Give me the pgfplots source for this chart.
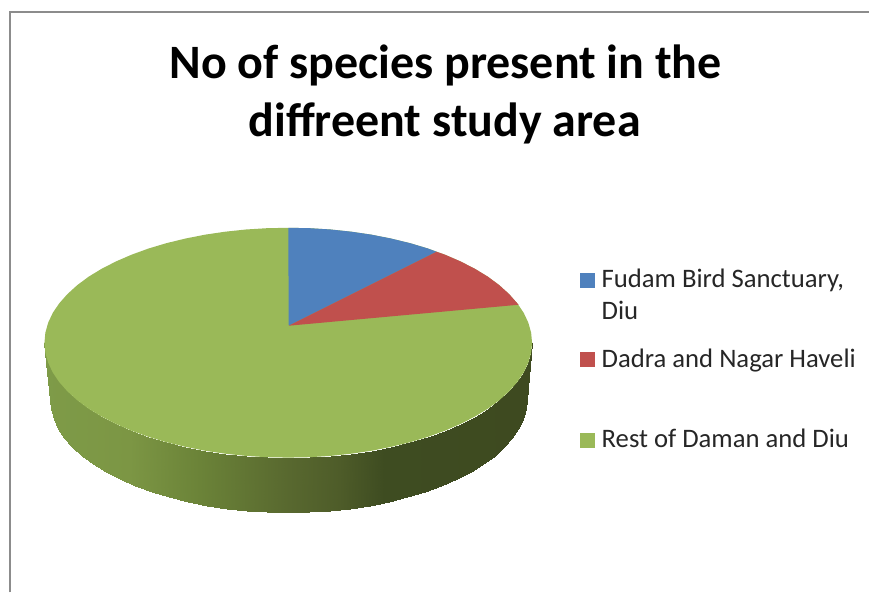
\documentclass[border=0pt]{standalone}
\usepackage{pgfplots}
\pgfplotsset{compat=1.18}
\usepackage{fontspec}
\setmainfont{Carlito}
\definecolor{sliceblue}{HTML}{4F81BD}
\definecolor{slicered}{HTML}{C0504D}
\definecolor{slicegreen}{HTML}{9AB958}
\definecolor{framegray}{HTML}{8C8C8C}
\begin{document}
\begin{tikzpicture}
  % axis in reference pixels, y downwards
  \begin{axis}[
    scale only axis,
    width=870pt,
    height=593pt,
    xmin=0, xmax=870,
    ymin=0, ymax=593,
    y dir=reverse,
    hide axis,
    clip=false,
    colormap={side}{rgb255(45)=(126,155,72) rgb255(130)=(124,150,68) rgb255(200)=(107,131,56) rgb255(290)=(88,104,47) rgb255(340)=(78,92,41) rgb255(385)=(62,76,33) rgb255(533)=(62,74,32)},
    point meta min=44.5,
    point meta max=532.5
  ]

  % chart frame
  \addplot[framegray, line width=1.5pt] coordinates {(10,593) (10,12) (870,12)};

  % rim of the pie: upper edge then lower edge
  \addplot[surf, shader=interp, mesh/rows=2, mesh/ordering=x varies, point meta=x] table {
    x y
    44.5 343
    45.4 353
    48.2 363
    52.8 372.8
    59.2 382.3
    67.4 391.6
    77.2 400.5
    88.6 409
    101.6 416.9
    116 424.3
    131.7 431.1
    148.5 437.2
    166.5 442.6
    185.4 447.2
    205 451.1
    225.4 454.1
    246.1 456.3
    267.2 457.6
    288.5 458
    309.8 457.6
    330.9 456.3
    351.6 454.1
    372 451.1
    391.6 447.2
    410.5 442.6
    428.5 437.2
    445.3 431.1
    461 424.3
    475.4 416.9
    488.4 409
    499.8 400.5
    509.6 391.6
    517.8 382.3
    524.2 372.8
    528.8 363
    531.6 353
    532.5 343
    50 400
    50.9 409.8
    53.6 419.6
    58.1 429.2
    64.4 438.6
    72.3 447.8
    82 456.5
    93.1 464.8
    105.8 472.6
    119.9 479.9
    135.2 486.6
    151.7 492.6
    169.2 497.9
    187.7 502.4
    206.9 506.2
    226.8 509.1
    247.1 511.3
    267.7 512.6
    288.5 513
    309.3 512.6
    329.9 511.3
    350.2 509.1
    370.1 506.2
    389.3 502.4
    407.8 497.9
    425.3 492.6
    441.8 486.6
    457.1 479.9
    471.2 472.6
    483.9 464.8
    495 456.5
    504.7 447.8
    512.6 438.6
    518.9 429.2
    523.4 419.6
    526.1 409.8
    527 400
  };

  % Rest of Daman and Diu (whole top, the other two lie on it)
  \addplot[fill=slicegreen, draw=none] coordinates {
    (288.5,228) (309.8,228.4) (330.9,229.7) (351.6,231.9) (372,234.9) (391.6,238.8)
    (410.5,243.4) (428.5,248.8) (445.3,254.9) (461,261.7) (475.4,269.1) (488.4,277)
    (499.8,285.5) (509.6,294.4) (517.8,303.7) (524.2,313.2) (528.8,323) (531.6,333)
    (532.5,343) (531.6,353) (528.8,363) (524.2,372.8) (517.8,382.3) (509.6,391.6)
    (499.8,400.5) (488.4,409) (475.4,416.9) (461,424.3) (445.3,431.1) (428.5,437.2)
    (410.5,442.6) (391.6,447.2) (372,451.1) (351.6,454.1) (330.9,456.3) (309.8,457.6)
    (288.5,458) (267.2,457.6) (246.1,456.3) (225.4,454.1) (205,451.1) (185.4,447.2)
    (166.5,442.6) (148.5,437.2) (131.7,431.1) (116,424.3) (101.6,416.9) (88.6,409)
    (77.2,400.5) (67.4,391.6) (59.2,382.3) (52.8,372.8) (48.2,363) (45.4,353)
    (44.5,343) (45.4,333) (48.2,323) (52.8,313.2) (59.2,303.7) (67.4,294.4)
    (77.2,285.5) (88.6,277) (101.6,269.1) (116,261.7) (131.7,254.9) (148.5,248.8)
    (166.5,243.4) (185.4,238.8) (205,234.9) (225.4,231.9) (246.1,229.7) (267.2,228.4)
  } -- cycle;

  % Fudam Bird Sanctuary, Diu
  \addplot[fill=sliceblue, draw=none] coordinates {
    (289,326) (288.5,228) (309.8,228.4) (330.9,229.7) (351.6,231.9) (372,234.9)
    (391.6,238.8) (410.5,243.4) (428.5,248.8) (437,252)
  } -- cycle;

  % Dadra and Nagar Haveli
  \addplot[fill=slicered, draw=none] coordinates {
    (289,326) (437,252) (445.3,254.9) (461,261.7) (475.4,269.1) (488.4,277)
    (499.8,285.5) (509.6,294.4) (517.8,303.7) (519,305)
  } -- cycle;

  % legend keys
  \addplot[only marks, mark=square*, mark size=7pt, color=sliceblue] coordinates {(588,280)};
  \addplot[only marks, mark=square*, mark size=7pt, color=slicered] coordinates {(588,360)};
  \addplot[only marks, mark=square*, mark size=7pt, color=slicegreen] coordinates {(588,441)};

  % legend text
  \node[anchor=base west, inner sep=0pt, font=\fontsize{26.7}{30}\selectfont, text=black!85] at (axis cs:602,288) {Fudam Bird Sanctuary,};
  \node[anchor=base west, inner sep=0pt, font=\fontsize{26.7}{30}\selectfont, text=black!85] at (axis cs:602,320) {Diu};
  \node[anchor=base west, inner sep=0pt, font=\fontsize{26.7}{30}\selectfont, text=black!85] at (axis cs:602,368) {Dadra and Nagar Haveli};
  \node[anchor=base west, inner sep=0pt, font=\fontsize{26.7}{30}\selectfont, text=black!85] at (axis cs:602,448) {Rest of Daman and Diu};

  % title
  \node[anchor=base, inner sep=0pt, font=\fontsize{48}{55}\selectfont\bfseries] at (axis cs:446,79) {No of species present in the};
  \node[anchor=base, inner sep=0pt, font=\fontsize{48}{55}\selectfont\bfseries] at (axis cs:445,137) {diffreent study area};

  \end{axis}
  % keep the whole canvas, the frame does not reach the page edge
  \useasboundingbox (current axis.south west) rectangle (current axis.north east);
\end{tikzpicture}
\end{document}
